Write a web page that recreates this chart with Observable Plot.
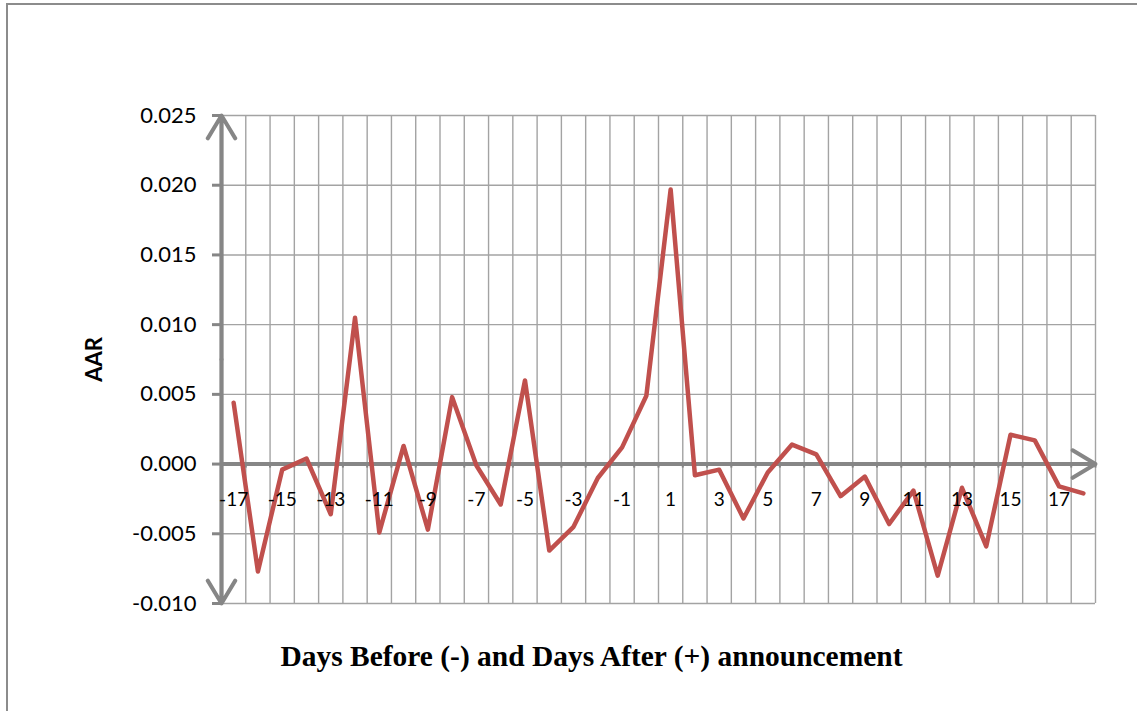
<!DOCTYPE html>
<html>
<head>
<meta charset="utf-8">
<script src="https://cdn.jsdelivr.net/npm/d3@7"></script>
<script src="https://cdn.jsdelivr.net/npm/@observablehq/plot@0.6"></script>
<style>
  html, body { margin: 0; padding: 0; background: #fff; overflow: hidden; }
</style>
</head>
<body>
<div id="chart"></div>
<script>
// ---- data ----
const days = [-17,-16,-15,-14,-13,-12,-11,-10,-9,-8,-7,-6,-5,-4,-3,-2,-1,0,1,2,3,4,5,6,7,8,9,10,11,12,13,14,15,16,17,18];
const aar  = [0.0044,-0.0077,-0.0004,0.0004,-0.0036,0.0105,-0.0049,0.0013,-0.0047,0.0048,
              -0.0001,-0.0029,0.0060,-0.0062,-0.0045,-0.0010,0.0012,0.0049,0.0197,-0.0008,
              -0.0004,-0.0039,-0.0006,0.0014,0.0007,-0.0023,-0.0009,-0.0043,-0.0019,-0.0080,
              -0.0017,-0.0059,0.0021,0.0017,-0.0016,-0.0021];
const xTickDays = [-17,-15,-13,-11,-9,-7,-5,-3,-1,1,3,5,7,9,11,13,15,17];
const xTickLabels = ["-17","-15","-13","-11","-9","-7","-5","-3","-1","1","3","5","7","9","11","13","15","17"];
const yTicks = [-0.010,-0.005,0,0.005,0.010,0.015,0.020,0.025];
const yTickLabels = ["-0.010","-0.005","0.000","0.005","0.010","0.015","0.020","0.025"];
const yTitle = "AAR";
const xTitle = "Days Before (-) and Days After (+) announcement";

// ---- derived ----
const data = days.map((d, i) => ({day: d, aar: aar[i]}));
const xMin = days[0] - 0.5, xMax = days[days.length - 1] + 0.5;
const bounds = days.map(d => d - 0.5).concat([xMax]);
const yMin = yTicks[0], yMax = yTicks[yTicks.length - 1];
const xTicksData = xTickDays.map((d, i) => ({day: d, label: xTickLabels[i]}));

const axisColor = "#868686";
const gridColor = "#a3a3a3";

const chart = Plot.plot({
  width: 1137,
  height: 711,
  marginLeft: 221,
  marginRight: 42,
  marginTop: 115,
  marginBottom: 108,
  style: {fontFamily: "Lato, sans-serif", fontSize: "19px", background: "#fff", color: "#000"},
  x: {domain: [xMin, xMax], axis: null},
  y: {domain: [yMin, yMax], axis: null},
  marks: [
    Plot.ruleX(bounds, {x: d => d, y1: yMin, y2: yMax, stroke: gridColor, strokeWidth: 1.4}),
    Plot.ruleY(yTicks, {y: d => d, x1: xMin, x2: xMax, stroke: gridColor, strokeWidth: 1.4}),
    Plot.axisY(yTicks, {
      tickSize: 9, tickPadding: 16, stroke: axisColor, strokeWidth: 3,
      tickFormat: d => yTickLabels[yTicks.indexOf(d)],
      fontSize: 22, label: null
    }),
    Plot.ruleX(bounds, {x: d => d, y1: 0, y2: 0, insetBottom: -4, stroke: axisColor, strokeWidth: 2}),
    Plot.ruleX([xMin], {x: d => d, y1: yMin, y2: yMax, stroke: axisColor, strokeWidth: 3.5}),
    Plot.ruleY([0], {y: d => d, x1: xMin, x2: xMax, stroke: axisColor, strokeWidth: 3.5}),
    Plot.arrow([0], {x1: xMin, y1: (yMin + yMax) / 2, x2: xMin, y2: yMax, stroke: axisColor, strokeWidth: 4, headLength: 10, headAngle: 62}),
    Plot.arrow([0], {x1: xMin, y1: (yMin + yMax) / 2, x2: xMin, y2: yMin, stroke: axisColor, strokeWidth: 4, headLength: 10, headAngle: 62}),
    Plot.arrow([0], {x1: xMin, y1: 0, x2: xMax, y2: 0, stroke: axisColor, strokeWidth: 4, headLength: 10, headAngle: 62}),
    Plot.line(data, {x: "day", y: "aar", stroke: "#c0504d", strokeWidth: 4.5, strokeLinejoin: "round", strokeLinecap: "round"}),
    Plot.text(xTicksData, {x: "day", y: 0, text: "label", dy: 36, lineAnchor: "middle", fontSize: 19, fill: "#000"}),
    Plot.text([yTitle], {frameAnchor: "left", dx: -127, rotate: -90, lineAnchor: "middle", textAnchor: "middle", fontSize: 22, fontWeight: "bold", fill: "#000"}),
    Plot.text([xTitle], {frameAnchor: "bottom", dx: -67, dy: 62, lineAnchor: "bottom", textAnchor: "middle", fontSize: 29, fontWeight: "bold", fontFamily: "'Liberation Serif', 'Times New Roman', serif", fill: "#000"})
  ]
});

// outer chart-area border (top and left edges visible)
const svg = d3.select(chart);
svg.insert("path", ":first-child")
  .attr("d", "M7,711V4H1137")
  .attr("fill", "none")
  .attr("stroke", "#8c8c8c")
  .attr("stroke-width", 2);
// squeeze x title to the reference width
svg.selectAll("text").filter(function() { return this.textContent === xTitle; })
  .attr("textLength", 622).attr("lengthAdjust", "spacingAndGlyphs");

document.getElementById("chart").appendChild(chart);
</script>
</body>
</html>
